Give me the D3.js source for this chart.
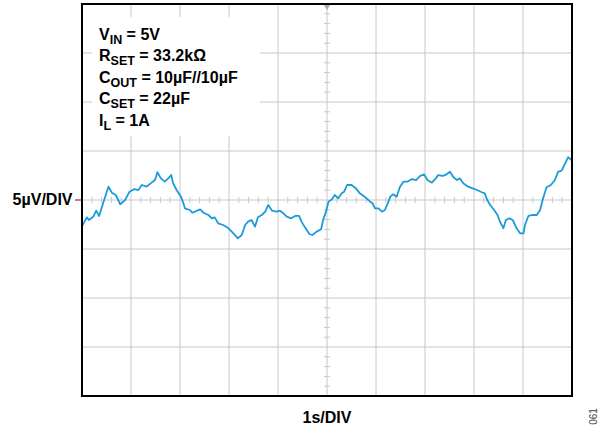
<!DOCTYPE html>
<html>
<head>
<meta charset="utf-8">
<script src="https://cdnjs.cloudflare.com/ajax/libs/d3/7.8.5/d3.min.js"></script>
<style>
  html, body { margin: 0; padding: 0; background: #fff; }
  svg { display: block; }
  text { font-family: "Liberation Sans", Arial, Helvetica, sans-serif; }
</style>
</head>
<body>
<svg id="chart" width="613" height="429"></svg>
<script>
// ---- data (time in s, voltage in µV) ----
const timeS = [0.00,0.10,0.14,0.23,0.29,0.35,0.44,0.54,0.61,0.69,0.78,0.88,0.97,1.07,1.15,1.22,1.32,1.42,1.49,1.54,1.61,1.69,1.76,1.82,1.86,1.93,2.02,2.07,2.10,2.20,2.25,2.41,2.48,2.58,2.65,2.71,2.78,2.88,2.99,3.09,3.18,3.26,3.33,3.39,3.46,3.53,3.59,3.67,3.74,3.80,3.88,3.97,4.04,4.11,4.18,4.27,4.35,4.43,4.48,4.55,4.64,4.70,4.79,4.88,4.92,4.98,5.03,5.10,5.16,5.23,5.30,5.35,5.41,5.50,5.59,5.67,5.78,5.88,5.93,5.98,6.05,6.12,6.18,6.24,6.29,6.35,6.42,6.49,6.56,6.64,6.73,6.82,6.90,6.98,7.05,7.14,7.22,7.27,7.36,7.44,7.51,7.58,7.65,7.71,7.78,7.88,7.97,8.06,8.16,8.22,8.27,8.33,8.41,8.48,8.53,8.60,8.65,8.72,8.79,8.87,8.94,9.01,9.04,9.11,9.20,9.28,9.35,9.40,9.48,9.57,9.65,9.72,9.79,9.86,9.92,9.99];
const noiseUV = [-2.65,-1.77,-2.04,-1.70,-1.09,-1.63,-0.17,1.36,0.74,0.51,-0.44,0.00,0.85,1.12,1.02,1.53,1.36,1.77,2.04,2.83,2.21,1.87,2.21,2.55,1.70,1.02,0.34,-0.34,-0.85,-1.02,-1.30,-0.95,-1.30,-1.53,-1.87,-1.77,-2.38,-2.55,-2.89,-3.40,-3.91,-3.57,-2.55,-2.21,-2.04,-2.72,-1.77,-1.53,-1.19,-0.51,-1.09,-1.19,-1.09,-1.36,-1.70,-1.87,-1.63,-1.63,-2.21,-2.79,-3.47,-3.57,-3.23,-2.99,-2.04,-1.19,-0.17,0.07,0.51,0.17,0.68,0.85,1.53,1.53,1.19,0.68,0.28,-0.17,-0.34,-0.85,-0.85,-1.19,-1.02,-0.34,0.34,0.58,0.34,1.36,1.87,1.87,2.14,2.04,2.45,2.62,2.04,1.77,2.21,2.55,2.45,2.62,2.89,2.32,2.04,2.21,1.70,1.36,1.19,1.02,0.79,0.68,0.00,-0.51,-1.02,-1.53,-2.21,-2.89,-2.04,-1.87,-2.04,-2.89,-3.40,-3.40,-2.55,-1.63,-1.53,-1.53,-1.02,0.00,1.30,1.53,2.04,2.89,2.99,3.74,4.36,4.08];
const xDomain = [0, 10];     // 10 divisions × 1 s
const yDomain = [-20, 20];   // 8 divisions × 5 µV
const xTicks = d3.range(0, 11, 1);
const yTicks = d3.range(-20, 25, 5);
const notes = [
  {main: "V", sub: "IN", rest: " = 5V"},
  {main: "R", sub: "SET", rest: " = 33.2kΩ"},
  {main: "C", sub: "OUT", rest: " = 10µF//10µF"},
  {main: "C", sub: "SET", rest: " = 22µF"},
  {main: "I", sub: "L", rest: " = 1A"}
];
const yLabel = "5µV/DIV";
const xLabel = "1s/DIV";
const figId = "061";

// ---- layout ----
const L = 82, R = 572, T = 4, B = 396;
const svg = d3.select("#chart");
const x = d3.scaleLinear().domain(xDomain).range([L, R]);
const y = d3.scaleLinear().domain(yDomain).range([B, T]);
const grid = "#c8c8c8";

// grid lines
svg.append("g").selectAll("line").data(xTicks).join("line")
  .attr("x1", d => x(d)).attr("x2", d => x(d)).attr("y1", T).attr("y2", B)
  .attr("stroke", grid).attr("stroke-width", 1);
svg.append("g").selectAll("line").data(yTicks).join("line")
  .attr("x1", L).attr("x2", R).attr("y1", d => y(d)).attr("y2", d => y(d))
  .attr("stroke", grid).attr("stroke-width", 1);

// minor ticks on center axes (5 per division)
const xMinor = d3.range(0, 10.001, 0.2).filter(d => Math.abs(d - Math.round(d)) > 1e-6);
const yMinor = d3.range(-20, 20.001, 1).filter(d => d % 5 !== 0);
svg.append("g").selectAll("line").data(xMinor).join("line")
  .attr("x1", d => x(d)).attr("x2", d => x(d)).attr("y1", y(0) - 3).attr("y2", y(0) + 3)
  .attr("stroke", grid).attr("stroke-width", 1);
svg.append("g").selectAll("line").data(yMinor).join("line")
  .attr("x1", x(5) - 3).attr("x2", x(5) + 3).attr("y1", d => y(d)).attr("y2", d => y(d))
  .attr("stroke", grid).attr("stroke-width", 1);

// white annotation box
svg.append("rect").attr("x", 92).attr("y", 17).attr("width", 168).attr("height", 119).attr("fill", "#fff");

// trace
const line = d3.line().x((d, i) => x(timeS[i])).y(d => y(d));
svg.append("path").datum(noiseUV).attr("d", line)
  .attr("fill", "none").attr("stroke", "#1b9bd7").attr("stroke-width", 1.8)
  .attr("stroke-linejoin", "round");

// border
svg.append("rect").attr("x", L).attr("y", T).attr("width", R - L).attr("height", B - T)
  .attr("fill", "none").attr("stroke", "#000").attr("stroke-width", 2);

// top marker triangle
svg.append("path").attr("d", `M${x(5) - 3},${T + 1}L${x(5) + 3},${T + 1}L${x(5)},${T + 6}Z`).attr("fill", "#aaa");
// left ground marker
svg.append("line").attr("x1", 75).attr("x2", L - 1).attr("y1", y(0)).attr("y2", y(0))
  .attr("stroke", "#a3203f").attr("stroke-width", 1.2);

// annotations
const nt = svg.append("g");
notes.forEach((n, i) => {
  const t = nt.append("text").attr("x", 99).attr("y", 39.5 + i * 21.6)
    .attr("font-size", 16).attr("font-weight", "bold").attr("fill", "#000");
  t.append("tspan").text(n.main);
  t.append("tspan").attr("font-size", 12.5).attr("dy", 4).text(n.sub);
  t.append("tspan").attr("dy", -4).text(n.rest);
});

// axis labels
svg.append("text").attr("x", 72.5).attr("y", 205).attr("text-anchor", "end")
  .attr("font-size", 16).attr("font-weight", "bold").text(yLabel);
svg.append("text").attr("x", x(5)).attr("y", 423).attr("text-anchor", "middle")
  .attr("font-size", 16).attr("font-weight", "bold").text(xLabel);
svg.append("text").attr("transform", "translate(597,416.5) rotate(-90)")
  .attr("text-anchor", "middle").attr("font-size", 10).attr("fill", "#444").text(figId);
</script>
</body>
</html>
